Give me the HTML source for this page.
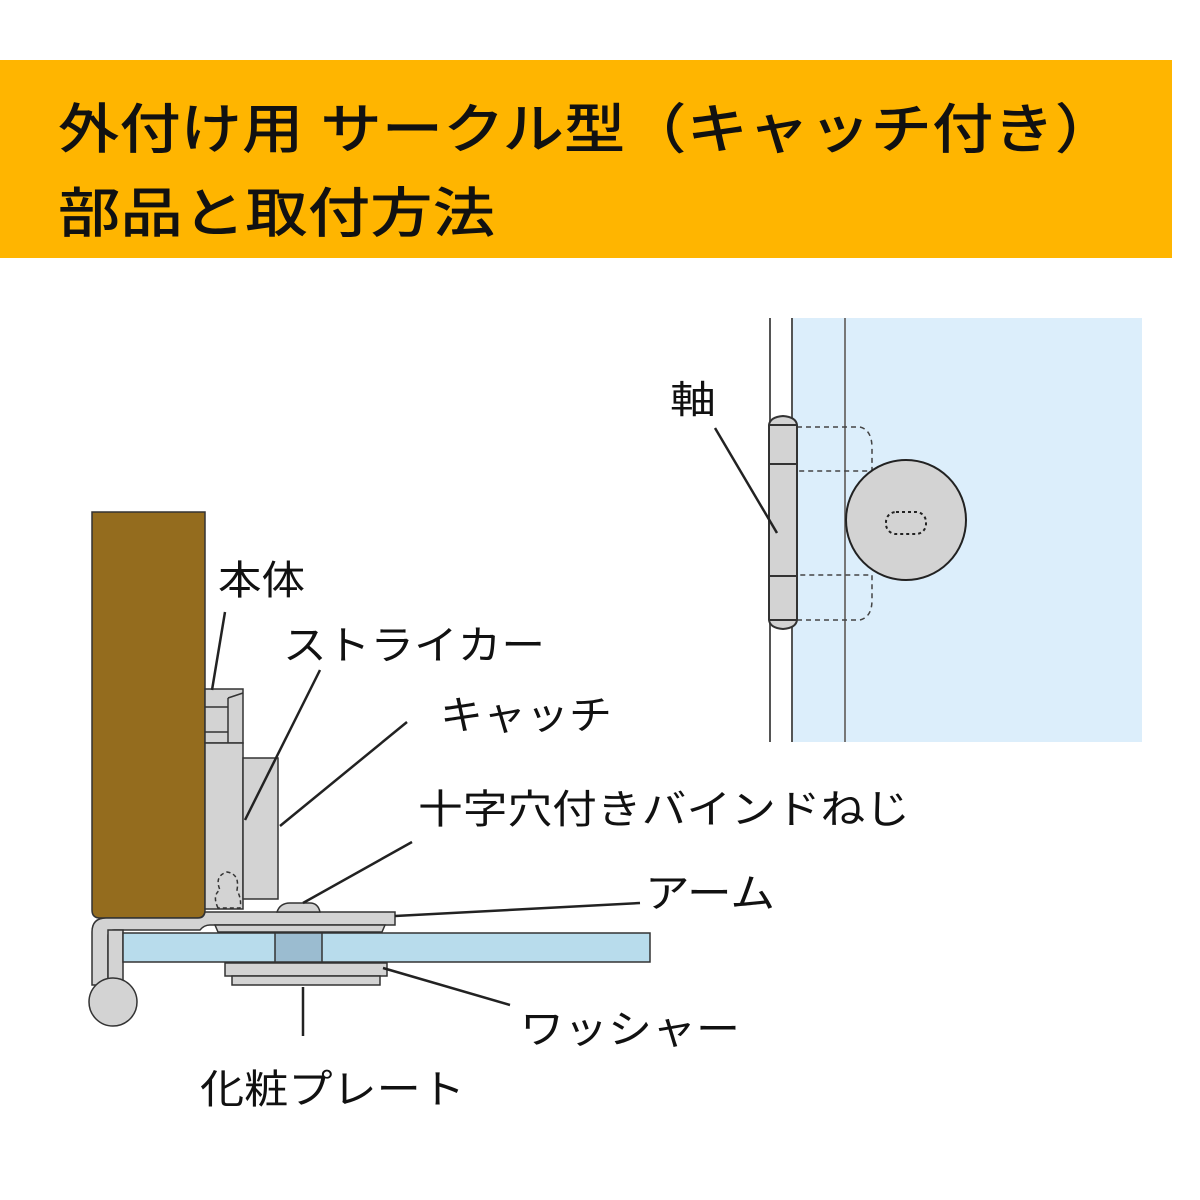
<!DOCTYPE html>
<html><head><meta charset="utf-8"><style>
html,body{margin:0;padding:0;background:#fff;}
svg{display:block;}
text{font-family:"Liberation Sans","Noto Sans CJK JP",sans-serif;fill:#111;}
</style></head><body>
<svg width="1200" height="1200" viewBox="0 0 1200 1200" xmlns="http://www.w3.org/2000/svg">
<rect x="0" y="60" width="1172" height="198" fill="#FFB500"/>
<text x="58" y="148" font-size="54" font-weight="500" textLength="1058" lengthAdjust="spacingAndGlyphs">外付け用 サークル型（キャッチ付き）</text>
<text x="58" y="232" font-size="54" font-weight="500" textLength="437" lengthAdjust="spacingAndGlyphs">部品と取付方法</text>

<!-- right diagram -->
<rect x="792" y="318" width="350" height="424" fill="#DCEEFB"/>
<line x1="770" y1="318" x2="770" y2="742" stroke="#555" stroke-width="2"/>
<line x1="792" y1="318" x2="792" y2="742" stroke="#555" stroke-width="2"/>
<line x1="845" y1="318" x2="845" y2="742" stroke="#777" stroke-width="2"/>
<path d="M797 427 H860 Q872 430 872 448 V471 H797" fill="none" stroke="#444" stroke-width="1.5" stroke-dasharray="5,4"/>
<path d="M797 620 H860 Q872 617 872 600 V575 H797" fill="none" stroke="#444" stroke-width="1.5" stroke-dasharray="5,4"/>
<path d="M769 425 Q770 417 783 416 Q796 417 797 425 V620 Q796 628 783 629 Q770 628 769 620 Z" fill="#D3D3D3" stroke="#333" stroke-width="2"/>
<line x1="769" y1="425" x2="797" y2="425" stroke="#333" stroke-width="2"/>
<line x1="769" y1="464" x2="797" y2="464" stroke="#333" stroke-width="2"/>
<line x1="769" y1="576" x2="797" y2="576" stroke="#333" stroke-width="2"/>
<line x1="769" y1="620" x2="797" y2="620" stroke="#333" stroke-width="2"/>
<circle cx="906" cy="520" r="60" fill="#D3D3D3" stroke="#222" stroke-width="2"/>
<rect x="886" y="512" width="40" height="22" rx="10" fill="none" stroke="#222" stroke-width="2" stroke-dasharray="3,3"/>
<text x="670" y="413" font-size="38" textLength="46" lengthAdjust="spacingAndGlyphs">軸</text>
<line x1="715" y1="428" x2="777" y2="533" stroke="#222" stroke-width="2.5"/>

<!-- left diagram -->
<path d="M92 512 H205 V910 Q205 918 197 918 H100 Q92 918 92 910 Z" fill="#946C1E" stroke="#333" stroke-width="1.5"/>
<rect x="205" y="689" width="38" height="54" fill="#D3D3D3" stroke="#333" stroke-width="1.5"/>
<line x1="205" y1="707" x2="228" y2="707" stroke="#333" stroke-width="1.5"/>
<line x1="205" y1="732" x2="228" y2="732" stroke="#333" stroke-width="1.5"/>
<line x1="228" y1="698" x2="228" y2="743" stroke="#333" stroke-width="1.5"/>
<line x1="228" y1="698" x2="243" y2="693" stroke="#333" stroke-width="1.5"/>
<rect x="205" y="743" width="38" height="166" fill="#D3D3D3" stroke="#333" stroke-width="1.5"/>
<rect x="243" y="758" width="35" height="141" fill="#D3D3D3" stroke="#333" stroke-width="1.5"/>
<path d="M218 908 Q212 895 220 890 Q214 876 227 872 Q240 874 237 890 Q242 900 240 908 Z" fill="none" stroke="#333" stroke-width="1.5" stroke-dasharray="4,3"/>
<!-- arm -->
<path d="M205 912 H395 V925 H210 Q204 925 200 930 H114 Q108 930 108 936 V985 H92 V932 Q92 918 106 918 H198 Q204 918 205 912 Z" fill="#D3D3D3" stroke="#333" stroke-width="1.5"/>
<path d="M215 925 H385 L382 932 H218 Z" fill="#D3D3D3" stroke="#333" stroke-width="1.5"/>
<path d="M277 912 Q280 903 290 903 H310 Q318 903 320 912 Z" fill="#D3D3D3" stroke="#333" stroke-width="1.5"/>
<rect x="108" y="930" width="15" height="55" fill="#D3D3D3" stroke="#333" stroke-width="1.5"/>
<circle cx="113" cy="1002" r="24" fill="#D3D3D3" stroke="#333" stroke-width="1.5"/>
<!-- glass -->
<rect x="123" y="933" width="527" height="29" fill="#B8DCEC" stroke="#333" stroke-width="1.5"/>
<rect x="275" y="933" width="47" height="29" fill="#9BBCD0" stroke="#333" stroke-width="1.5"/>
<rect x="225" y="963" width="162" height="13" fill="#D3D3D3" stroke="#333" stroke-width="1.5"/>
<rect x="232" y="976" width="148" height="9" fill="#D3D3D3" stroke="#333" stroke-width="1.5"/>

<!-- labels -->
<g font-size="40" lengthAdjust="spacingAndGlyphs">
<text x="218" y="594" textLength="87" lengthAdjust="spacingAndGlyphs">本体</text>
<text x="283" y="659" textLength="262" lengthAdjust="spacingAndGlyphs">ストライカー</text>
<text x="440" y="729" textLength="172" lengthAdjust="spacingAndGlyphs">キャッチ</text>
<text x="418" y="823" textLength="492" lengthAdjust="spacingAndGlyphs">十字穴付きバインドねじ</text>
<text x="645" y="907" textLength="130" lengthAdjust="spacingAndGlyphs">アーム</text>
<text x="520" y="1043" textLength="220" lengthAdjust="spacingAndGlyphs">ワッシャー</text>
<text x="200" y="1103" textLength="265" lengthAdjust="spacingAndGlyphs">化粧プレート</text>
</g>
<g stroke="#222" stroke-width="2.5">
<line x1="225" y1="612" x2="212" y2="690"/>
<line x1="320" y1="670" x2="245" y2="820"/>
<line x1="407" y1="722" x2="280" y2="826"/>
<line x1="412" y1="842" x2="303" y2="903"/>
<line x1="640" y1="903" x2="395" y2="916"/>
<line x1="510" y1="1005" x2="383" y2="968"/>
<line x1="303" y1="987" x2="303" y2="1036"/>
</g>
</svg>
</body></html>
